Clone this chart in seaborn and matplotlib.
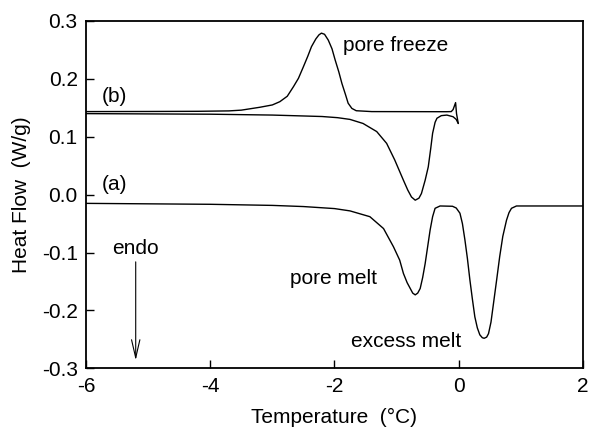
import matplotlib
matplotlib.use("Agg")
import matplotlib.pyplot as plt
import seaborn as sns
import pandas as pd

# Curve (a): heating scan, pore melt and excess melt endotherms
a_temp = [-6.0, -4.0, -3.0, -2.5, -2.0, -1.75, -1.43, -1.21, -1.05, -0.95, -0.89, -0.83,
          -0.78, -0.74, -0.70, -0.66, -0.62, -0.58, -0.54, -0.50, -0.46, -0.42, -0.38,
          -0.30, -0.10, -0.04, 0.02, 0.06, 0.10, 0.14, 0.18, 0.22, 0.26, 0.30, 0.34,
          0.38, 0.41, 0.45, 0.48, 0.52, 0.56, 0.61, 0.66, 0.71, 0.77, 0.81, 0.85, 0.93, 2.00]
a_flow = [-0.0150, -0.0166, -0.0185, -0.0205, -0.0240, -0.0280, -0.0380, -0.0585, -0.0900,
          -0.1130, -0.1360, -0.1520, -0.1620, -0.1700, -0.1730, -0.1700, -0.1620, -0.1430,
          -0.1190, -0.0900, -0.0610, -0.0380, -0.0235, -0.0195, -0.0200, -0.0230, -0.0320,
          -0.0500, -0.0780, -0.1100, -0.1470, -0.1800, -0.2110, -0.2300, -0.2420, -0.2470,
          -0.2480, -0.2460, -0.2400, -0.2200, -0.1880, -0.1480, -0.1070, -0.0720, -0.0440,
          -0.0310, -0.0235, -0.0195, -0.0195]

# Curve (b), cooling scan: pore freeze exotherm
b_cool_temp = [-6.0, -5.0, -4.2, -3.7, -3.5, -3.2, -3.0, -2.88, -2.76, -2.66, -2.58, -2.50,
               -2.43, -2.37, -2.30, -2.25, -2.21, -2.16, -2.10, -2.04, -1.99, -1.93, -1.88,
               -1.82, -1.78, -1.72, -1.65, -1.40, -0.20, -0.12, -0.09, -0.05, -0.035, -0.007]
b_cool_flow = [0.1435, 0.1437, 0.1440, 0.1447, 0.1460, 0.1510, 0.1550, 0.1606, 0.1700,
               0.1866, 0.2010, 0.2210, 0.2390, 0.2557, 0.2690, 0.2760, 0.2790, 0.2770,
               0.2670, 0.2520, 0.2330, 0.2120, 0.1920, 0.1720, 0.1580, 0.1490, 0.1450,
               0.1435, 0.1433, 0.1435, 0.1470, 0.1590, 0.1400, 0.1230]

# Curve (b), heating scan: pore melt endotherm
b_heat_temp = [-6.0, -5.0, -4.0, -3.0, -2.2, -1.95, -1.75, -1.54, -1.32, -1.16, -1.03, -0.89,
               -0.82, -0.76, -0.70, -0.64, -0.60, -0.54, -0.49, -0.45, -0.42, -0.38, -0.35,
               -0.28, -0.19, -0.09, -0.04, -0.007]
b_heat_flow = [0.1400, 0.1395, 0.1390, 0.1375, 0.1350, 0.1330, 0.1300, 0.1230, 0.1090,
               0.0886, 0.0600, 0.0250, 0.0080, -0.0040, -0.0095, -0.0060, 0.0020, 0.0250,
               0.0480, 0.0800, 0.1060, 0.1250, 0.1320, 0.1365, 0.1375, 0.1346, 0.1300, 0.1230]

x_ticks = [-6, -4, -2, 0, 2]
y_ticks = [-0.3, -0.2, -0.1, 0.0, 0.1, 0.2, 0.3]

sns.set_style("ticks")
plt.rcParams["font.family"] = ["Liberation Sans", "DejaVu Sans"]
plt.rcParams["text.color"] = "black"
plt.rcParams["axes.labelcolor"] = "black"

fig = plt.figure(figsize=(5.90, 4.37), dpi=100)
ax = fig.add_axes([0.1458, 0.157, 0.8422, 0.795])

line_kw = dict(sort=False, estimator=None, color="black", linewidth=1.0, ax=ax)
sns.lineplot(data=pd.DataFrame({"T": a_temp, "HF": a_flow}), x="T", y="HF", **line_kw)
sns.lineplot(data=pd.DataFrame({"T": b_heat_temp, "HF": b_heat_flow}), x="T", y="HF", **line_kw)
sns.lineplot(data=pd.DataFrame({"T": b_cool_temp, "HF": b_cool_flow}), x="T", y="HF", **line_kw)

ax.set_xlim(-6, 2)
ax.set_ylim(-0.3, 0.3)
ax.set_xticks(x_ticks)
ax.set_xticklabels([f"{t:d}" for t in x_ticks])
ax.set_yticks(y_ticks)
ax.set_yticklabels([f"{t:.1f}" for t in y_ticks])

fs = 15
ax.tick_params(axis="both", direction="in", length=6, width=1.0, labelsize=fs,
               colors="black", labelcolor="black", pad=6)
for side in ["top", "right", "bottom", "left"]:
    ax.spines[side].set_visible(True)
    ax.spines[side].set_linewidth(1.3)
    ax.spines[side].set_color("black")

ax.set_xlabel("Temperature  (°C)", fontsize=fs, labelpad=9, color="black")
ax.set_ylabel("Heat Flow  (W/g)", fontsize=fs, labelpad=8, color="black")

txt_kw = dict(fontsize=fs, va="center", ha="left", color="black")
ax.text(-1.87, 0.258, "pore freeze", **txt_kw)
ax.text(-5.74, 0.170, "(b)", **txt_kw)
ax.text(-5.75, 0.018, "(a)", **txt_kw)
ax.text(-2.72, -0.145, "pore melt", **txt_kw)
ax.text(-1.74, -0.253, "excess melt", **txt_kw)
ax.text(-5.58, -0.093, "endo", **txt_kw)
ax.annotate("", xy=(-5.20, -0.286), xytext=(-5.20, -0.116),
            arrowprops=dict(arrowstyle="->,head_length=1.3,head_width=0.3",
                            color="black", lw=0.8, mutation_scale=10,
                            shrinkA=0, shrinkB=0))

fig.savefig("out.png", dpi=100)
